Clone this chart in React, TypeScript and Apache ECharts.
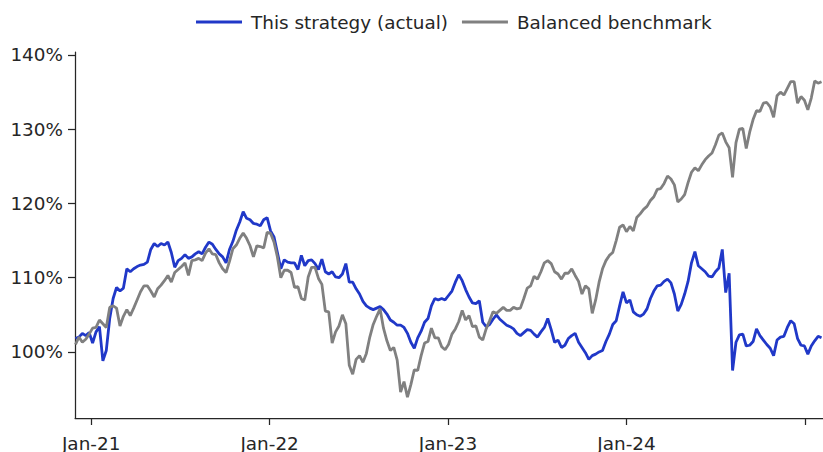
import React, { useEffect, useRef } from "react";
import * as echarts from "echarts";

// Weekly observations, first week ending 2020-11-30
const START_DATE = Date.UTC(2020, 10, 30);
const WEEK_MS = 7 * 24 * 3600 * 1000;

const seriesNames = ["This strategy (actual)", "Balanced benchmark"];

// Values in % of starting value
const strategy = [
  101.8, 102.0, 102.5, 102.2, 102.6, 101.2, 102.7, 103.4, 98.8, 100.2,
  104.5, 107.2, 108.7, 108.2, 108.6, 111.2, 110.8, 111.2, 111.5, 111.7,
  111.8, 112.1, 113.8, 114.6, 114.2, 114.6, 114.4, 114.8, 113.4, 111.4,
  112.3, 112.6, 113.1, 112.6, 112.8, 113.2,
  113.5, 113.2, 114.1, 114.8, 114.5, 113.8, 113.2, 112.8, 112.0, 113.8,
  114.9, 116.4, 117.5, 118.9, 118.0, 117.8, 117.3, 117.2, 117.0, 117.8,
  118.1, 116.3, 115.5, 113.4, 111.2, 112.4, 112.1, 112.0, 112.0, 111.1,
  113.0, 111.6, 112.3, 112.4, 111.9, 111.1,
  112.5, 110.8, 110.5, 110.8, 110.1, 110.0, 110.5, 111.9, 109.4, 109.4,
  108.5, 107.8, 106.8, 106.2, 105.9, 105.7, 105.9, 106.1, 105.7, 105.1,
  104.3, 104.0, 103.6, 103.6, 103.3, 102.5, 101.3, 100.5, 101.9, 102.8,
  104.0, 104.5, 106.2, 107.2, 107.0, 107.2, 107.0,
  107.6, 108.2, 109.4, 110.4, 109.6, 108.4, 107.4, 106.6, 106.5, 106.9,
  104.0, 103.4, 103.7, 104.4, 105.0, 104.4, 104.0, 103.6, 103.4, 103.1,
  102.5, 102.2, 102.6, 103.0, 102.9, 102.4, 102.0, 102.7, 103.3, 104.5,
  103.0, 101.3, 101.6, 100.6, 100.9, 101.8,
  102.2, 102.5, 101.3, 100.6, 99.9, 99.0, 99.5, 99.7, 100.0, 100.2,
  101.4, 102.4, 103.7, 104.2, 106.2, 108.1, 106.6, 107.0, 105.4, 105.0,
  104.8, 105.1, 105.8, 107.2, 108.2, 108.9, 109.0, 109.5, 109.8, 109.3,
  107.8, 105.5, 106.4, 107.8, 109.5, 112.0, 113.5,
  111.6, 111.2, 110.8, 110.2, 110.1, 110.8, 111.3, 113.8, 108.0, 110.6,
  97.5, 101.3, 102.3, 102.4, 100.8, 100.9, 101.4, 103.1, 102.2, 101.6,
  101.0, 100.5, 99.5, 101.6, 102.0, 102.1, 103.3, 104.2, 103.8, 101.8,
  100.9, 100.8, 99.7, 100.8, 101.5, 102.1, 101.9,
];

const benchmark = [
  101.0, 102.0, 101.3, 101.7, 102.4, 103.2, 103.3, 104.3, 103.8, 103.3,
  106.0, 106.2, 105.9, 103.5, 104.8, 105.7, 104.9, 105.9, 107.0, 108.1,
  108.9, 108.9, 108.2, 107.4, 108.5, 109.0, 109.6, 110.3, 109.4, 110.7,
  111.1, 111.5, 112.0, 110.3, 112.3, 112.4,
  112.6, 112.3, 113.3, 113.9, 113.2, 113.1, 112.0, 111.2, 110.7, 112.2,
  113.9, 114.4, 115.3, 116.0, 115.3, 114.3, 112.8, 114.3, 114.2, 114.0,
  116.1, 116.0, 114.8, 112.8, 110.0, 111.0, 111.0, 110.7, 108.7, 108.8,
  107.2, 107.0, 110.1, 111.4, 111.4, 109.9,
  109.1, 105.5, 105.4, 101.2, 102.7, 103.5, 105.0, 103.8, 98.2, 97.0,
  99.0, 99.5, 98.6, 99.8, 102.0, 103.7, 104.8, 105.8, 103.2, 101.5,
  100.2, 100.6, 98.9, 94.6, 96.0, 93.9, 95.6, 97.6, 97.5, 99.5,
  101.2, 101.4, 103.2, 101.9, 101.9, 100.7, 100.3,
  101.0, 102.4, 103.1, 104.1, 105.6, 104.3, 104.9, 103.4, 103.5, 102.0,
  101.6, 103.1, 104.2, 105.4, 105.2, 105.6, 106.0, 105.6, 105.6, 106.0,
  105.8, 105.9, 107.2, 108.6, 108.9, 110.2, 109.8, 110.8, 112.0, 112.3,
  111.9, 110.8, 110.5, 109.8, 110.6, 110.6,
  111.2, 110.3, 109.5, 107.8, 108.9, 108.5, 105.2, 107.0, 109.4, 111.2,
  112.3, 113.0, 113.4, 115.0, 116.8, 117.1, 116.2, 116.9, 116.3, 118.1,
  118.6, 119.2, 119.6, 120.4, 120.9, 121.9, 122.0, 122.7, 123.7, 123.3,
  122.5, 120.2, 120.6, 121.2, 122.8, 124.2, 124.8,
  124.4, 125.2, 125.9, 126.4, 126.8, 127.9, 129.2, 129.5, 128.3, 127.5,
  123.5, 128.2, 130.0, 130.1, 127.4, 129.6, 131.3, 132.5, 132.4, 133.5,
  133.6, 133.0, 131.6, 134.5, 135.0, 134.6, 135.5, 136.4, 136.4, 133.5,
  134.4, 133.9, 132.6, 134.2, 136.5, 136.2, 136.4,
];

const yTicks = [100, 110, 120, 130, 140];
const xTickYears = [2021, 2022, 2023, 2024, 2025];
const xLabelYears = [2021, 2022, 2023, 2024];

const TEXT = "#262626";
const FONT = "DejaVu Sans";
const FONT_SIZE = 18.4;

export default function App() {
  const ref = useRef<HTMLDivElement>(null);

  useEffect(() => {
    if (!ref.current) return;
    const chart = echarts.init(ref.current, null, { renderer: "svg" });
    const toPairs = (arr: number[]) =>
      arr.map((v, i) => [START_DATE + i * WEEK_MS, v]);

    chart.setOption({
      animation: false,
      backgroundColor: "#ffffff",
      textStyle: { fontFamily: FONT },
      legend: {
        top: 8,
        left: 191,
        icon: "rect",
        itemWidth: 46,
        itemHeight: 3,
        itemGap: 14,
        textStyle: {
          fontFamily: FONT,
          fontSize: FONT_SIZE,
          color: TEXT,
          padding: [0, 0, 0, 4],
        },
        data: seriesNames,
      },
      grid: {
        left: 75,
        right: 0,
        top: 52,
        bottom: 34,
        containLabel: false,
      },
      xAxis: {
        type: "value",
        min: Date.UTC(2020, 10, 29),
        max: Date.UTC(2025, 1, 6),
        splitLine: { show: false },
        axisLine: { show: true, lineStyle: { color: TEXT, width: 1.25 } },
        axisTick: {
          show: true,
          length: 7,
          lineStyle: { color: TEXT, width: 1.25 },
          customValues: xTickYears.map((y) => Date.UTC(y, 0, 1)),
        },
        axisLabel: {
          show: true,
          margin: 16,
          fontFamily: FONT,
          fontSize: FONT_SIZE,
          color: TEXT,
          hideOverlap: false,
          customValues: xLabelYears.map((y) => Date.UTC(y, 0, 1)),
          formatter: (v: number) =>
            "Jan-" + String(new Date(v).getUTCFullYear()).slice(2),
        },
      },
      yAxis: {
        type: "value",
        min: 91.1,
        max: 140.4,
        splitLine: { show: false },
        axisLine: { show: true, lineStyle: { color: TEXT, width: 1.25 } },
        axisTick: {
          show: true,
          length: 7,
          lineStyle: { color: TEXT, width: 1.25 },
          customValues: yTicks,
        },
        axisLabel: {
          margin: 12,
          fontFamily: FONT,
          fontSize: FONT_SIZE,
          color: TEXT,
          customValues: yTicks,
          formatter: (v: number) => `${Math.round(v)}%`,
        },
      },
      series: [
        {
          name: seriesNames[0],
          type: "line",
          data: toPairs(strategy),
          showSymbol: false,
          symbol: "none",
          lineStyle: { color: "#2038c8", width: 2.8 },
          itemStyle: { color: "#2038c8" },
        },
        {
          name: seriesNames[1],
          type: "line",
          data: toPairs(benchmark),
          showSymbol: false,
          symbol: "none",
          lineStyle: { color: "#808080", width: 2.8 },
          itemStyle: { color: "#808080" },
        },
      ],
    });

    return () => chart.dispose();
  }, []);

  return (
    <div
      ref={ref}
      style={{ position: "fixed", left: 0, top: 0, width: 823, height: 452 }}
    />
  );
}
